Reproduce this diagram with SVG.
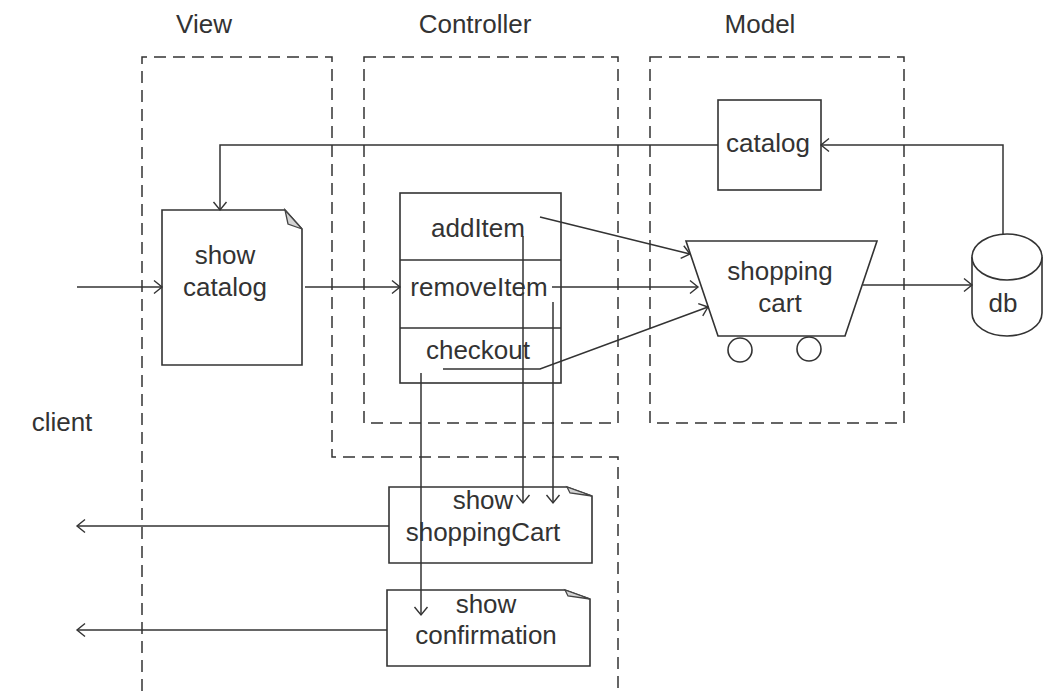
<svg xmlns="http://www.w3.org/2000/svg" width="1062" height="691" viewBox="0 0 1062 691">
<style>
text{font-family:"Liberation Sans",Arial,sans-serif;font-size:26px;fill:#333;text-anchor:middle}
.s{fill:#fff;stroke:#333;stroke-width:1.6}
.n{fill:none;stroke:#333;stroke-width:1.6}
.d{fill:none;stroke:#333;stroke-width:1.5;stroke-dasharray:12 7}
.f{fill:#d4d4d4;stroke:#444;stroke-width:1.3}
.c{fill:none;stroke:#333;stroke-width:1.5;marker-end:url(#a)}
</style>
<defs>
<marker id="a" markerUnits="userSpaceOnUse" markerWidth="16" markerHeight="16" refX="12" refY="8" orient="auto">
<path d="M4 1.5L12 8L4 14.5" fill="none" stroke="#333" stroke-width="1.4"/>
</marker>
</defs>
<rect width="1062" height="691" fill="#fff"/>
<g id="regions">
<path class="d" d="M142 691V57H332V457H618V691"/>
<rect class="d" x="364" y="57" width="254" height="366"/>
<rect class="d" x="650" y="57" width="254" height="366"/>
</g>
<g id="labels">
<text x="204" y="33">View</text>
<text x="475" y="33">Controller</text>
<text x="760" y="33">Model</text>
<text x="62" y="431">client</text>
</g>
<g id="show-catalog">
<path class="s" d="M162 210H285L302 229V365H162Z"/>
<path class="f" d="M285 210L302 229L288 224Z"/>
<text x="225" y="264">show</text><text x="225" y="296">catalog</text>
</g>
<g id="controller">
<rect class="s" x="400" y="193" width="161" height="190"/>
<path class="n" d="M400 260H561M400 328H561"/>
<text x="478" y="237">addItem</text>
<text x="479" y="296">removeItem</text>
<text x="478" y="359">checkout</text>
</g>
<g id="catalog">
<rect class="s" x="718" y="100" width="103" height="90"/>
<text x="768" y="152">catalog</text>
</g>
<g id="shopping-cart">
<path class="s" d="M686 241H877L845 336H718Z"/>
<circle class="s" cx="740" cy="350" r="12"/>
<circle class="s" cx="809" cy="349" r="12"/>
<text x="780" y="280">shopping</text><text x="780" y="312">cart</text>
</g>
<g id="db">
<path class="s" d="M972 257V313C972 326 988 336 1007 336S1042 326 1042 313V257"/>
<ellipse class="s" cx="1007" cy="257" rx="35" ry="23"/>
<text x="1003" y="312">db</text>
</g>
<g id="show-shoppingCart">
<path class="s" d="M389 487H567L592 496V563H389Z"/>
<path class="f" d="M567 487L592 496L570 493Z"/>
<text x="483" y="509">show</text><text x="483" y="541">shoppingCart</text>
</g>
<g id="show-confirmation">
<path class="s" d="M387 590H565L590 599V666H387Z"/>
<path class="f" d="M565 590L590 599L568 596Z"/>
<text x="486" y="613">show</text><text x="486" y="644">confirmation</text>
</g>
<g id="connectors">
<path class="c" d="M77 287H162"/>
<path class="c" d="M305 287H400"/>
<path class="c" d="M1003 234V145H821"/>
<path class="c" d="M718 145H220V210"/>
<path class="c" d="M540 217L690 254"/>
<path class="c" d="M552 287H698"/>
<path class="c" d="M443 369H540L708 307"/>
<path class="c" d="M863 285H972"/>
<path class="c" d="M523 236V503"/>
<path class="c" d="M553 302V503"/>
<path class="c" d="M421 373V615"/>
<path class="c" d="M389 526H77"/>
<path class="c" d="M387 630H77"/>
</g>
</svg>
